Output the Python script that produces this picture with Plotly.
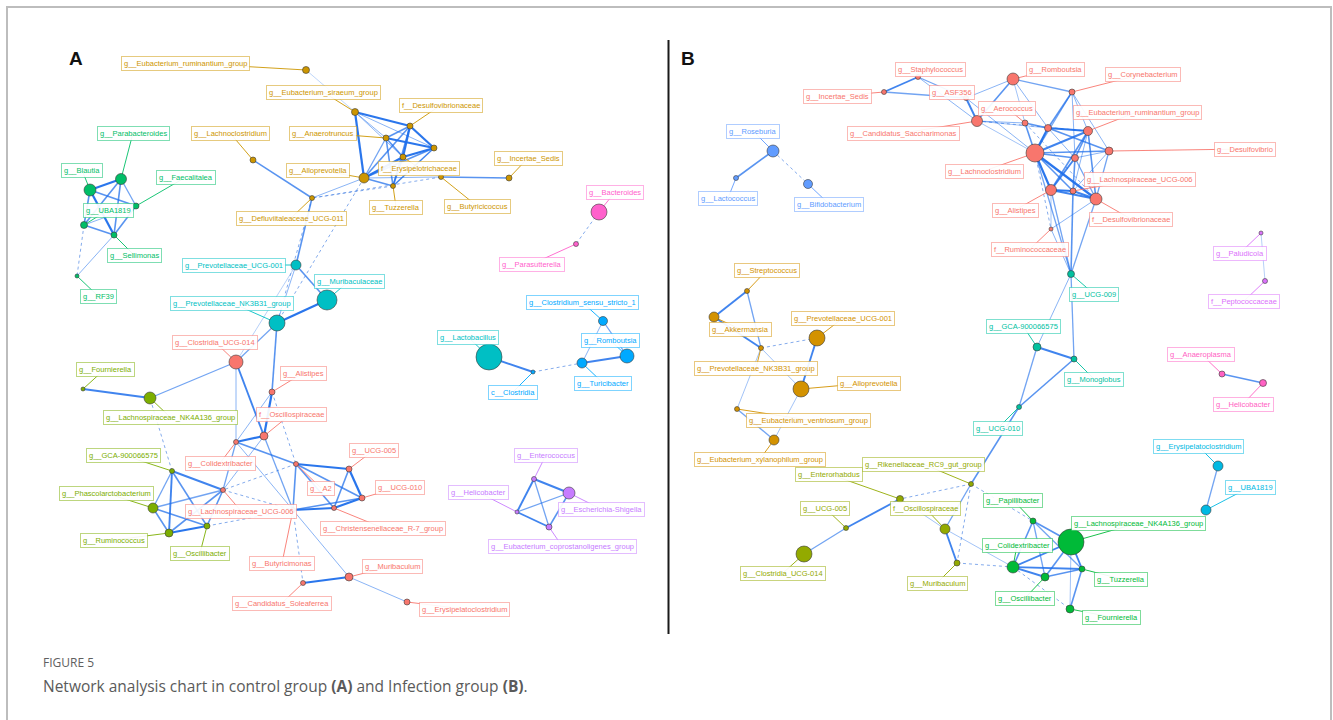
import plotly.graph_objects as go

# ---------------- Panel A : control group ----------------
A_key = ["ERum", "ESir", "Lach", "Anae", "Desu", "Allo", "Erys", "G8", "Ince", "Defl", "Tuzz", "Buty",
         "PU01", "Muri", "PNK", "Lact",
         "CSS1", "Romb", "Turi", "Clos",
         "Para", "Blau", "Faec", "UBA", "Sell", "RF39",
         "CU14", "Alis", "Osci", "Coli", "A2", "L006", "Bumo", "Sole", "Murb", "Eryc", "U005", "U010", "Chri",
         "Four", "NK4", "GCA", "Phas", "Rumi", "Osbi",
         "Ente", "Esch", "Heli", "Ecop",
         "Bact", "Pars"]
A_label = ["g__Eubacterium_ruminantium_group", "g__Eubacterium_siraeum_group", "g__Lachnoclostridium",
           "g__Anaerotruncus", "f__Desulfovibrionaceae", "g__Alloprevotella", "f__Erysipelotrichaceae", "",
           "g__Incertae_Sedis", "g__Defluviitaleaceae_UCG-011", "g__Tuzzerella", "g__Butyricicoccus",
           "g__Prevotellaceae_UCG-001", "g__Muribaculaceae", "g__Prevotellaceae_NK3B31_group", "g__Lactobacillus",
           "g__Clostridium_sensu_stricto_1", "g__Romboutsia", "g__Turicibacter", "c__Clostridia",
           "g__Parabacteroides", "g__Blautia", "g__Faecalitalea", "g__UBA1819", "g__Sellimonas", "g__RF39",
           "g__Clostridia_UCG-014", "g__Alistipes", "f__Oscillospiraceae", "g__Colidextribacter", "g__A2",
           "g__Lachnospiraceae_UCG-006", "g__Butyricimonas", "g__Candidatus_Soleaferrea", "g__Muribaculum",
           "g__Erysipelatoclostridium", "g__UCG-005", "g__UCG-010", "g__Christensenellaceae_R-7_group",
           "g__Fournierella", "g__Lachnospiraceae_NK4A136_group", "g__GCA-900066575", "g__Phascolarctobacterium",
           "g__Ruminococcus", "g__Oscillibacter",
           "g__Enterococcus", "g__Escherichia-Shigella", "g__Helicobacter", "g__Eubacterium_coprostanoligenes_group",
           "g__Bacteroides", "g__Parasutterella"]
A_x = [306, 355, 253, 386, 410, 364, 403, 434, 509, 312, 393, 441,
       296, 327, 277, 489,
       603, 627, 582, 533,
       121, 90, 136, 84, 114, 77,
       236, 272, 264, 236, 296, 223, 293, 303, 349, 407, 349, 362, 334,
       83, 150, 172, 153, 169, 207,
       534, 569, 517, 549,
       599, 576]
A_y = [70, 112, 160, 138, 126, 178, 157, 148, 178, 198, 186, 177,
       265, 300, 323, 357,
       321, 356, 363, 372,
       179, 190, 206, 225, 235, 276,
       362, 392, 436, 442, 464, 490, 510, 583, 577, 602, 469, 498, 508,
       389, 398, 471, 508, 533, 526,
       479, 493, 512, 527,
       212, 244]
A_r = [3.5, 3.5, 3, 3, 3, 5, 3, 3, 3, 2.5, 2.5, 2.5,
       5, 10, 8, 13,
       4.5, 7, 5, 2,
       5.5, 6, 3, 3.5, 3, 2,
       7, 3, 4, 2.5, 2.5, 2.5, 2.5, 2.5, 4, 3, 3, 3, 2.5,
       2, 6, 2.5, 5, 4, 3,
       2.5, 6, 2, 3,
       8, 2.5]
A_grp = ["gold"] * 12 + ["teal"] * 4 + ["blue"] * 4 + ["green"] * 6 + ["salmon"] * 13 + \
        ["olive"] * 6 + ["purple"] * 4 + ["pink"] * 2
A_lx = [185, 323, 230, 323, 441, 318, 419, 0, 528, 291, 396, 477,
        234, 349, 232, 468,
        582, 610, 603, 513,
        133, 82, 186, 108, 134, 98,
        215, 303, 291, 220, 321, 241, 282, 282, 392, 464, 374, 400, 383,
        105, 170, 123, 106, 114, 200,
        546, 601, 478, 562,
        615, 532]
A_ly = [63, 92, 133, 133, 105, 170, 168, 0, 158, 218, 207, 206,
        265, 281, 303, 337,
        302, 340, 383, 392,
        133, 170, 177, 210, 255, 296,
        342, 373, 414, 463, 488, 511, 563, 603, 566, 609, 450, 487, 528,
        369, 417, 455, 493, 540, 553,
        455, 509, 492, 546,
        192, 264]
# edge weight: positive = positive correlation (solid), negative = negative (dotted)
A_edges = [("ERum", "ESir", 0.5), ("ESir", "Desu", 3), ("ESir", "Allo", 3), ("ESir", "Anae", 1),
           ("ESir", "G8", 1), ("ESir", "Erys", 1), ("Desu", "Anae", 2), ("Desu", "G8", 3), ("Desu", "Erys", 3),
           ("Desu", "Allo", 2), ("Desu", "Tuzz", 2), ("Anae", "G8", 3), ("Anae", "Erys", 2), ("Anae", "Tuzz", 2),
           ("Anae", "Allo", 1.5), ("G8", "Erys", 3), ("G8", "Allo", 2), ("G8", "Tuzz", 2), ("Erys", "Allo", 3),
           ("Erys", "Tuzz", 2), ("Allo", "Buty", 1), ("Buty", "Ince", 2), ("Allo", "Tuzz", 2), ("Allo", "Defl", 1),
           ("Defl", "Lach", 2), ("Defl", "PU01", 2), ("Tuzz", "Defl", -1), ("Buty", "Defl", -1),
           ("Allo", "PNK", -1), ("G8", "Tuzz", 1),
           ("PU01", "Muri", 2), ("PU01", "PNK", 1), ("PU01", "CU14", 0.6), ("Muri", "PNK", 3), ("PNK", "CU14", 1.5),
           ("Defl", "PNK", -1), ("PNK", "Alis", 2),
           ("CU14", "NK4", 1.5), ("CU14", "Osci", 2.5), ("CU14", "Coli", 1), ("Alis", "Osci", 3), ("Alis", "Coli", 1),
           ("Alis", "A2", -1), ("Osci", "Coli", 3), ("Osci", "L006", 1), ("Osci", "Bumo", 1.5), ("Coli", "A2", 2),
           ("Coli", "L006", 1.5), ("Coli", "Bumo", 1), ("A2", "L006", -1), ("A2", "U005", 3), ("A2", "U010", 2),
           ("A2", "Chri", 2), ("A2", "Bumo", 2), ("U005", "U010", 3), ("U005", "Chri", 2), ("U010", "Chri", 3),
           ("U010", "Bumo", 2), ("Chri", "Bumo", 3), ("Bumo", "Sole", -1), ("Bumo", "Murb", 1), ("Sole", "Murb", 3),
           ("Murb", "Eryc", 1),
           ("GCA", "NK4", -1), ("NK4", "Four", 2.5), ("GCA", "Phas", 1.5), ("GCA", "Rumi", 2.5), ("GCA", "Osbi", 2),
           ("GCA", "L006", 2.5), ("Phas", "Rumi", 2), ("Phas", "Osbi", 2), ("Phas", "L006", 1.5), ("Rumi", "Osbi", 3),
           ("Rumi", "L006", 2), ("Osbi", "L006", 2), ("Osbi", "Bumo", -1), ("L006", "Bumo", -1),
           ("Blau", "Para", 3), ("Blau", "Faec", 2), ("Blau", "UBA", 2), ("Blau", "Sell", 3), ("Para", "UBA", 2),
           ("Para", "Sell", 2), ("Para", "Faec", 1.5), ("Faec", "UBA", 1), ("Faec", "Sell", 2), ("UBA", "Sell", 2),
           ("UBA", "RF39", -1), ("Sell", "RF39", 1),
           ("Lact", "Clos", 2.5), ("Clos", "Turi", -1), ("Turi", "Romb", 2.5), ("Turi", "CSS1", 1), ("CSS1", "Romb", 1.5),
           ("Ente", "Esch", 2.5), ("Ente", "Heli", 2.5), ("Ente", "Ecop", 1.5), ("Heli", "Esch", 1.5),
           ("Heli", "Ecop", 2.5), ("Esch", "Ecop", 2),
           ("Bact", "Pars", -1)]

# ---------------- Panel B : infection group ----------------
B_key = ["Rose", "Lacc", "Bifi",
         "Ince", "Stap", "ASF", "Sacc", "Romb", "Cory", "Aero", "S8", "ERum", "Desv", "Lach", "S12", "L006",
         "Alis", "Dsfa", "Rumc",
         "U009", "GCA", "Mono", "U010",
         "Ente", "Rike", "Osci", "U005", "CU14", "Murb",
         "Papi", "NK4", "Coli", "Osbi", "Tuzz", "Four",
         "Anap", "Heli", "Eryc", "UBA", "Palu", "Pept",
         "Stre", "Akke", "PNK", "PU01", "Allo", "Vent", "Xyla"]
B_label = ["g__Roseburia", "g__Lactococcus", "g__Bifidobacterium",
           "g__Incertae_Sedis", "g__Staphylococcus", "g__ASF356", "g__Candidatus_Saccharimonas", "g__Romboutsia",
           "g__Corynebacterium", "g__Aerococcus", "", "g__Eubacterium_ruminantium_group", "g__Desulfovibrio",
           "g__Lachnoclostridium", "", "g__Lachnospiraceae_UCG-006", "g__Alistipes", "f__Desulfovibrionaceae",
           "f__Ruminococcaceae",
           "g__UCG-009", "g__GCA-900066575", "g__Monoglobus", "g__UCG-010",
           "g__Enterorhabdus", "g__Rikenellaceae_RC9_gut_group", "f__Oscillospiraceae", "g__UCG-005",
           "g__Clostridia_UCG-014", "g__Muribaculum",
           "g__Papillibacter", "g__Lachnospiraceae_NK4A136_group", "g__Colidextribacter", "g__Oscillibacter",
           "g__Tuzzerella", "g__Fournierella",
           "g__Anaeroplasma", "g__Helicobacter", "g__Erysipelatoclostridium", "g__UBA1819", "g__Paludicola",
           "f__Peptococcaceae",
           "g__Streptococcus", "g__Akkermansia", "g__Prevotellaceae_NK3B31_group", "g__Prevotellaceae_UCG-001",
           "g__Alloprevotella", "g__Eubacterium_ventriosum_group", "g__Eubacterium_xylanophilum_group"]
B_x = [773, 736, 808,
       884, 918, 966, 977, 1013, 1072, 1025, 1048, 1088, 1109, 1035, 1075, 1073, 1051, 1096, 1051,
       1071, 1037, 1074, 1019,
       900, 971, 945, 846, 804, 957,
       1033, 1071, 1013, 1045, 1082, 1070,
       1222, 1263, 1218, 1206, 1261, 1265,
       747, 714, 761, 817, 801, 737, 774]
B_y = [151, 178, 184,
       92, 77, 98, 121, 79, 92, 123, 128, 131, 151, 153, 158, 191, 190, 199, 229,
       274, 347, 359, 407,
       499, 484, 529, 528, 554, 563,
       521, 542, 567, 577, 569, 609,
       374, 383, 466, 510, 233, 281,
       291, 317, 348, 338, 389, 409, 440]
B_r = [6, 2.5, 4.5,
       2.5, 2.5, 2.5, 5.5, 6, 3, 3, 3.5, 4.5, 4, 9, 3.5, 3, 5.5, 6, 2,
       3.5, 4, 3, 2.5,
       3.5, 2.5, 5, 2.5, 8, 3,
       3, 13, 6, 4, 3, 4,
       3, 3.5, 5, 5, 2, 2.5,
       2.5, 5, 2.5, 8, 8, 2.5, 5]
B_grp = ["blue"] * 3 + ["salmon"] * 16 + ["teal"] * 4 + ["olive"] * 6 + ["green"] * 6 + \
        ["pink"] * 2 + ["cyan"] * 2 + ["purple"] * 2 + ["gold"] * 7
B_lx = [753, 728, 829,
        837, 930, 952, 903, 1055, 1143, 1007, 0, 1137, 1245, 984, 0, 1140, 1015, 1131, 1030,
        1094, 1023, 1094, 998,
        829, 923, 925, 825, 783, 937,
        1013, 1138, 1017, 1025, 1121, 1111,
        1201, 1243, 1198, 1250, 1240, 1244,
        767, 740, 756, 843, 869, 808, 760]
B_ly = [131, 198, 204,
        96, 69, 92, 133, 69, 74, 108, 0, 112, 149, 171, 0, 179, 210, 219, 249,
        294, 326, 379, 428,
        474, 464, 508, 508, 573, 583,
        500, 523, 545, 598, 579, 617,
        354, 404, 446, 487, 253, 301,
        270, 329, 368, 318, 383, 420, 459]
B_edges = [("Rose", "Lacc", 2), ("Rose", "Bifi", -1),
           ("Ince", "Stap", 2.5), ("Ince", "ASF", 1.5), ("Stap", "ASF", 1.5), ("Stap", "Sacc", 1), ("ASF", "Sacc", 2.5),
           ("ASF", "Romb", 1), ("ASF", "Lach", 1), ("Sacc", "Lach", 0.8), ("Sacc", "Aero", 1), ("Sacc", "S8", 0.8),
           ("Sacc", "ERum", -1), ("Romb", "Sacc", 2), ("Romb", "Aero", 0.8), ("Romb", "S8", 1), ("Romb", "Cory", 1.5),
           ("Cory", "S8", 2), ("Cory", "Lach", 1.5), ("Cory", "ERum", 1), ("Cory", "S12", 1), ("Cory", "Desv", 1),
           ("Aero", "Lach", 2), ("Aero", "S8", 2), ("S8", "Lach", 3), ("S8", "ERum", 3), ("S8", "Desv", 2),
           ("S8", "S12", 1), ("Lach", "ERum", 2.5), ("Lach", "Desv", 2), ("Lach", "S12", 2), ("Lach", "Alis", 3),
           ("Lach", "L006", 2), ("Lach", "Dsfa", 3), ("Lach", "Rumc", -1), ("ERum", "S12", 2), ("ERum", "Alis", 2),
           ("ERum", "Dsfa", 2), ("ERum", "L006", 1), ("Desv", "S12", 1), ("Desv", "Dsfa", 1.5), ("Desv", "L006", 1),
           ("S12", "Alis", 2.5), ("S12", "L006", 2), ("S12", "Dsfa", 1.5), ("Alis", "L006", 3), ("Alis", "Dsfa", 2.5),
           ("L006", "Dsfa", 2.5), ("Alis", "Rumc", 0.8), ("Rumc", "Dsfa", 1), ("Aero", "Dsfa", -1),
           ("U009", "Lach", 1.5), ("U009", "Alis", 1.5), ("U009", "L006", 2), ("U009", "Dsfa", 1.5),
           ("U009", "Rumc", 1), ("U009", "GCA", 1), ("U009", "Mono", 1.5), ("GCA", "Mono", 2.5), ("GCA", "U010", 1.5),
           ("Mono", "U010", 2), ("U010", "Rike", 2),
           ("Rike", "Ente", -1), ("Rike", "Osci", 1.5), ("Rike", "Murb", -1), ("Rike", "Papi", -1),
           ("Ente", "U005", 2.5), ("U005", "CU14", 1.5), ("Osci", "Murb", 2.5), ("Osci", "Ente", 0.8),
           ("Osci", "Coli", 0.8), ("Murb", "Coli", -1),
           ("Papi", "NK4", 2), ("Papi", "Coli", 2), ("Papi", "Osbi", 1.5), ("Papi", "Tuzz", 1.5), ("NK4", "Coli", 2.5),
           ("NK4", "Osbi", 2), ("NK4", "Tuzz", 2.5), ("NK4", "Four", 0.8), ("Coli", "Osbi", 2.5), ("Coli", "Tuzz", 2.5),
           ("Osbi", "Tuzz", 2), ("Tuzz", "Four", 2), ("Coli", "Four", -1),
           ("Anap", "Heli", 2), ("Eryc", "UBA", 1.5), ("Palu", "Pept", 0.6),
           ("Stre", "Akke", 2.5), ("Stre", "PNK", 1.5), ("Akke", "PNK", 2.5), ("PNK", "PU01", -1), ("PU01", "Allo", 2.5),
           ("PNK", "Allo", 0.8), ("PNK", "Vent", 0.8), ("Vent", "Xyla", 1.5), ("Allo", "Xyla", 0.8)]

A_colors = {"salmon": "#F8766D", "gold": "#CD9600", "olive": "#7CAE00", "green": "#00BE67",
            "teal": "#00BFC4", "blue": "#00A9FF", "purple": "#C77CFF", "pink": "#FF61CC"}
B_colors = {"salmon": "#F8766D", "gold": "#D39200", "olive": "#93AA00", "green": "#00BA38",
            "teal": "#00C19F", "cyan": "#00B9E3", "blue": "#619CFF", "purple": "#DB72FB", "pink": "#FF61C3"}

EDGE_BLUE = "#1F6FEB"
LABEL_FONT = "Liberation Sans, Arial, sans-serif"


def rgba(hex_color, a):
    h = hex_color.lstrip("#")
    r, g, b = int(h[0:2], 16), int(h[2:4], 16), int(h[4:6], 16)
    return f"rgba({r},{g},{b},{a})"


fig = go.Figure()
annotations = []


def draw_network(keys, labels, xs, ys, rs, groups, lxs, lys, edges, colors):
    pos = {k: (x, y) for k, x, y in zip(keys, xs, ys)}

    # edges, bucketed by weight so each bucket is one trace
    buckets = {}
    for s, t, w in edges:
        buckets.setdefault(w, []).append((s, t))
    for w, pairs in sorted(buckets.items()):
        ex, ey = [], []
        for s, t in pairs:
            ex += [pos[s][0], pos[t][0], None]
            ey += [pos[s][1], pos[t][1], None]
        if w < 0:
            line = dict(color=rgba("#5B8FE6", 0.75), width=1, dash="dot")
        else:
            line = dict(color=rgba(EDGE_BLUE, min(0.95, 0.3 + 0.22 * w)), width=0.4 + 0.6 * w)
        fig.add_trace(go.Scatter(x=ex, y=ey, mode="lines", line=line, hoverinfo="skip", showlegend=False))

    # leader lines from node to its label
    for g, col in colors.items():
        lx, ly = [], []
        for k, lab, x, y, gg, tx, ty in zip(keys, labels, xs, ys, groups, lxs, lys):
            if gg == g and lab:
                lx += [x, tx, None]
                ly += [y, ty, None]
        if lx:
            fig.add_trace(go.Scatter(x=lx, y=ly, mode="lines", line=dict(color=col, width=0.9),
                                     hoverinfo="skip", showlegend=False))

    # nodes
    for g, col in colors.items():
        idx = [i for i, gg in enumerate(groups) if gg == g]
        if not idx:
            continue
        fig.add_trace(go.Scatter(
            x=[xs[i] for i in idx], y=[ys[i] for i in idx], mode="markers",
            marker=dict(size=[2 * rs[i] for i in idx], color=col, opacity=1,
                        line=dict(color="#3a3a3a", width=0.6)),
            text=[labels[i] for i in idx], hoverinfo="text", showlegend=False))

    # label boxes
    for lab, gg, tx, ty in zip(labels, groups, lxs, lys):
        if not lab:
            continue
        col = colors[gg]
        annotations.append(dict(
            x=tx, y=ty, xref="x", yref="y", text=lab, showarrow=False,
            xanchor="center", yanchor="middle",
            font=dict(family=LABEL_FONT, size=7.5, color=col),
            bgcolor="rgba(255,255,255,0.92)", bordercolor=rgba(col, 0.5),
            borderwidth=1, borderpad=2))


draw_network(A_key, A_label, A_x, A_y, A_r, A_grp, A_lx, A_ly, A_edges, A_colors)
draw_network(B_key, B_label, B_x, B_y, B_r, B_grp, B_lx, B_ly, B_edges, B_colors)

# panel letters and caption
annotations += [
    dict(x=76, y=58, xref="x", yref="y", text="<b>A</b>", showarrow=False,
         font=dict(family="Liberation Sans, Arial", size=19, color="#111")),
    dict(x=688, y=58, xref="x", yref="y", text="<b>B</b>", showarrow=False,
         font=dict(family="Liberation Sans, Arial", size=19, color="#111")),
    dict(x=41, y=662, xref="x", yref="y", text="FIGURE 5", showarrow=False, xanchor="left",
         font=dict(family="Open Sans, sans-serif", size=12, color="#606060")),
    dict(x=41, y=686, xref="x", yref="y",
         text="Network analysis chart in control group <b>(A)</b> and Infection group <b>(B)</b>.",
         showarrow=False, xanchor="left",
         font=dict(family="Open Sans, sans-serif", size=15.5, color="#5a5a5a")),
]

shapes = [
    dict(type="rect", xref="x", yref="y", x0=7, y0=7, x1=1331, y1=760,
         line=dict(color="#bdbdbd", width=2)),
    dict(type="line", xref="x", yref="y", x0=668.5, y0=40, x1=668.5, y1=634,
         line=dict(color="#1a1a1a", width=2)),
]

fig.update_layout(
    width=1333, height=720, margin=dict(l=0, r=0, t=0, b=0),
    paper_bgcolor="white", plot_bgcolor="white",
    xaxis=dict(range=[0, 1333], visible=False, fixedrange=True),
    yaxis=dict(range=[720, 0], visible=False, fixedrange=True),
    annotations=annotations, shapes=shapes, showlegend=False,
)

fig.write_html("out.html")
